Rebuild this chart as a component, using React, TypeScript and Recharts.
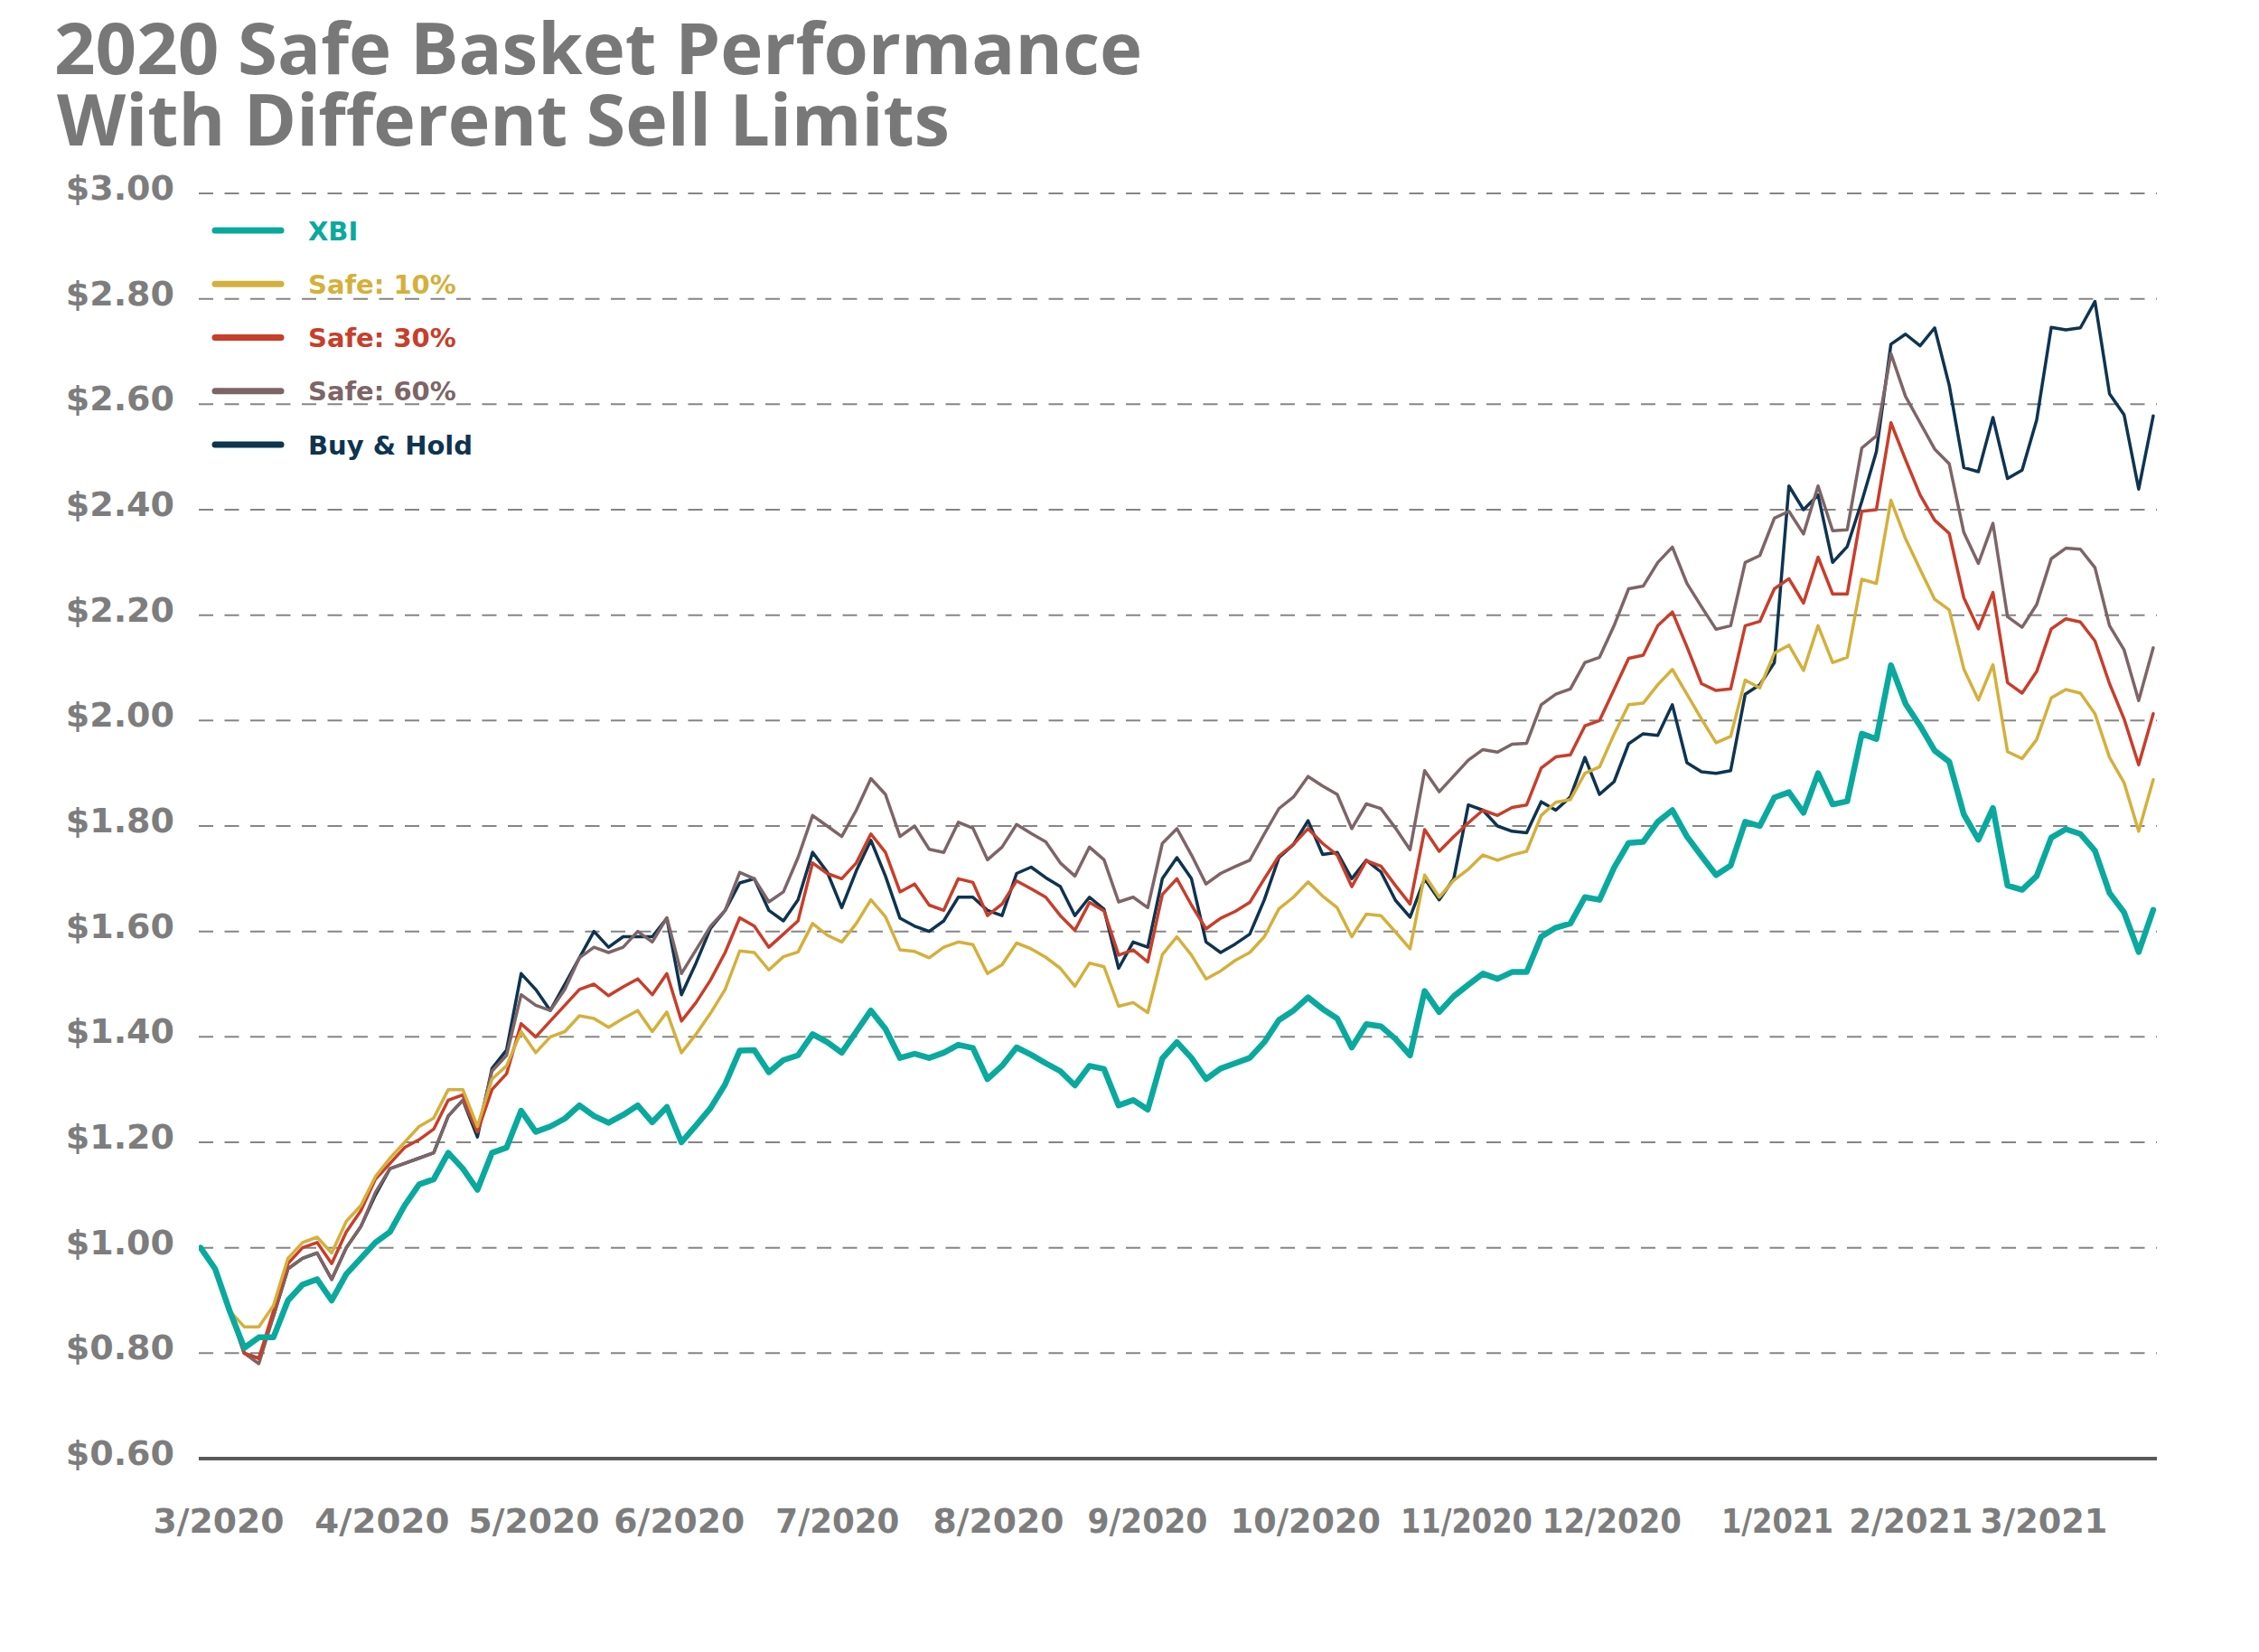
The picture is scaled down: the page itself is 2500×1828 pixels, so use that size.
import React from 'react';
import { LineChart, Line, XAxis, YAxis, CartesianGrid } from 'recharts';

// Basket values sampled every second trading day, 3/2020 through 3/2021 (start = $1.00)
const xbi = [
  1.00, 0.96, 0.88, 0.81, 0.83, 0.83, 0.90, 0.93, 0.94, 0.90,
  0.95, 0.98, 1.01, 1.03, 1.08, 1.12, 1.13, 1.18, 1.15, 1.11,
  1.18, 1.19, 1.26, 1.22, 1.23, 1.245, 1.27, 1.25, 1.237, 1.252,
  1.27, 1.238, 1.267, 1.20, 1.232, 1.265, 1.31, 1.374, 1.375, 1.333,
  1.356, 1.365, 1.405, 1.39, 1.37, 1.41, 1.45, 1.415, 1.36, 1.368,
  1.36, 1.37, 1.385, 1.379, 1.32, 1.345, 1.38, 1.366, 1.35, 1.335,
  1.308, 1.345, 1.339, 1.27, 1.28, 1.262, 1.359, 1.39, 1.36, 1.32,
  1.34, 1.35, 1.36, 1.39, 1.432, 1.45, 1.475, 1.453, 1.435, 1.38,
  1.424, 1.42, 1.396, 1.365, 1.487, 1.447, 1.477, 1.499, 1.52, 1.51,
  1.523, 1.523, 1.59, 1.607, 1.615, 1.665, 1.66, 1.721, 1.768, 1.77,
  1.808, 1.83, 1.78, 1.743, 1.707, 1.725, 1.808, 1.80, 1.854, 1.864,
  1.825, 1.90, 1.841, 1.847, 1.975, 1.965, 2.105, 2.032, 1.99, 1.943,
  1.922, 1.822, 1.774, 1.834, 1.687, 1.679, 1.705, 1.778, 1.794, 1.785,
  1.753, 1.673, 1.636, 1.561, 1.641,
];

const safe10 = [
  1.00, 0.96, 0.88, 0.85, 0.85, 0.89, 0.98, 1.01, 1.02, 0.99,
  1.05, 1.08, 1.135, 1.17, 1.20, 1.23, 1.246, 1.30, 1.30, 1.23,
  1.32, 1.345, 1.41, 1.37, 1.40, 1.41, 1.44, 1.435, 1.418, 1.435,
  1.45, 1.41, 1.447, 1.37, 1.405, 1.445, 1.49, 1.563, 1.56, 1.527,
  1.552, 1.561, 1.615, 1.593, 1.58, 1.615, 1.66, 1.628, 1.565, 1.562,
  1.55, 1.57, 1.58, 1.575, 1.52, 1.537, 1.578, 1.567, 1.551, 1.53,
  1.496, 1.54, 1.533, 1.458, 1.465, 1.446, 1.556, 1.59, 1.555, 1.51,
  1.525, 1.545, 1.56, 1.59, 1.643, 1.665, 1.694, 1.667, 1.645, 1.59,
  1.633, 1.63, 1.599, 1.567, 1.707, 1.665, 1.697, 1.718, 1.745, 1.735,
  1.745, 1.752, 1.82, 1.845, 1.85, 1.90, 1.912, 1.974, 2.03, 2.033,
  2.068, 2.097, 2.05, 2.003, 1.958, 1.97, 2.077, 2.062, 2.128, 2.143,
  2.095, 2.18, 2.11, 2.12, 2.268, 2.26, 2.418, 2.345, 2.287, 2.23,
  2.21, 2.098, 2.039, 2.106, 1.941, 1.928, 1.964, 2.043, 2.059, 2.052,
  2.013, 1.93, 1.882, 1.79, 1.888,
];

const safe30 = [
  1.00, 0.96, 0.88, 0.80, 0.79, 0.88, 0.97, 1.00, 1.01, 0.97,
  1.03, 1.07, 1.13, 1.16, 1.19, 1.205, 1.225, 1.28, 1.29, 1.22,
  1.30, 1.33, 1.425, 1.40, 1.43, 1.46, 1.49, 1.50, 1.478, 1.495,
  1.51, 1.48, 1.52, 1.43, 1.465, 1.508, 1.56, 1.626, 1.61, 1.57,
  1.595, 1.62, 1.73, 1.71, 1.70, 1.73, 1.785, 1.75, 1.675, 1.69,
  1.65, 1.64, 1.70, 1.693, 1.63, 1.652, 1.696, 1.681, 1.665, 1.63,
  1.602, 1.655, 1.639, 1.555, 1.565, 1.542, 1.67, 1.70, 1.65, 1.605,
  1.625, 1.638, 1.655, 1.70, 1.743, 1.765, 1.795, 1.767, 1.745, 1.685,
  1.734, 1.724, 1.687, 1.652, 1.793, 1.752, 1.78, 1.806, 1.83, 1.82,
  1.835, 1.84, 1.91, 1.931, 1.935, 1.99, 2.00, 2.059, 2.118, 2.124,
  2.18, 2.206, 2.14, 2.07, 2.057, 2.06, 2.18, 2.188, 2.25, 2.269,
  2.223, 2.31, 2.24, 2.24, 2.397, 2.40, 2.565, 2.495, 2.428, 2.38,
  2.355, 2.233, 2.174, 2.243, 2.072, 2.052, 2.093, 2.174, 2.193, 2.187,
  2.151, 2.07, 2.003, 1.916, 2.013,
];

const safe60 = [
  1.00, 0.96, 0.88, 0.80, 0.78, 0.87, 0.96, 0.98, 0.99, 0.94,
  1.00, 1.04, 1.105, 1.15, 1.16, 1.17, 1.18, 1.25, 1.28, 1.22,
  1.335, 1.365, 1.48, 1.46, 1.45, 1.49, 1.55, 1.57, 1.56, 1.57,
  1.60, 1.58, 1.626, 1.52, 1.565, 1.61, 1.64, 1.712, 1.70, 1.656,
  1.675, 1.74, 1.82, 1.80, 1.78, 1.83, 1.89, 1.86, 1.78, 1.80,
  1.756, 1.75, 1.807, 1.796, 1.736, 1.76, 1.803, 1.786, 1.77, 1.73,
  1.705, 1.76, 1.736, 1.656, 1.665, 1.645, 1.767, 1.795, 1.745, 1.69,
  1.71, 1.723, 1.735, 1.785, 1.833, 1.855, 1.894, 1.876, 1.86, 1.795,
  1.842, 1.833, 1.796, 1.755, 1.905, 1.865, 1.895, 1.925, 1.945, 1.94,
  1.955, 1.957, 2.03, 2.05, 2.06, 2.11, 2.12, 2.18, 2.25, 2.255,
  2.30, 2.329, 2.26, 2.216, 2.173, 2.18, 2.30, 2.313, 2.384, 2.397,
  2.354, 2.445, 2.36, 2.362, 2.517, 2.54, 2.696, 2.615, 2.565, 2.515,
  2.487, 2.357, 2.298, 2.374, 2.197, 2.177, 2.22, 2.307, 2.327, 2.325,
  2.29, 2.18, 2.134, 2.038, 2.138,
];

const buyHold = [
  1.00, 0.96, 0.88, 0.80, 0.79, 0.87, 0.96, 0.98, 0.99, 0.94,
  1.00, 1.04, 1.10, 1.15, 1.16, 1.17, 1.18, 1.25, 1.28, 1.21,
  1.34, 1.375, 1.52, 1.49, 1.45, 1.50, 1.55, 1.60, 1.57, 1.59,
  1.59, 1.59, 1.625, 1.48, 1.54, 1.606, 1.64, 1.692, 1.70, 1.64,
  1.62, 1.66, 1.75, 1.713, 1.645, 1.715, 1.773, 1.705, 1.625, 1.61,
  1.60, 1.62, 1.665, 1.665, 1.64, 1.63, 1.71, 1.722, 1.702, 1.685,
  1.63, 1.665, 1.642, 1.53, 1.58, 1.57, 1.70, 1.74, 1.70, 1.58,
  1.56, 1.576, 1.595, 1.66, 1.74, 1.765, 1.81, 1.746, 1.75, 1.70,
  1.735, 1.713, 1.659, 1.627, 1.70, 1.66, 1.70, 1.84, 1.83, 1.80,
  1.79, 1.787, 1.846, 1.83, 1.855, 1.93, 1.86, 1.884, 1.956, 1.975,
  1.972, 2.03, 1.92, 1.903, 1.90, 1.905, 2.05, 2.068, 2.11, 2.445,
  2.40, 2.428, 2.30, 2.33, 2.416, 2.51, 2.714, 2.733, 2.711, 2.745,
  2.636, 2.48, 2.472, 2.575, 2.459, 2.475, 2.57, 2.746, 2.741, 2.745,
  2.795, 2.62, 2.58, 2.439, 2.578,
];

// Month labels and where they sit along the sample index
const monthLabels = [
  '3/2020', '4/2020', '5/2020', '6/2020', '7/2020', '8/2020', '9/2020',
  '10/2020', '11/2020', '12/2020', '1/2021', '2/2021', '3/2021',
];
const monthTickIdx = [1.24, 12.46, 22.88, 32.86, 43.71, 54.75, 64.98, 75.83, 86.87, 96.85, 108.2, 117.37, 126.49];
// rendered width of each month label, so the condensed labels stay in their slots
const monthLabelWidths = [145, 149, 145, 145, 137, 145, 133, 166, 146, 154, 124, 137, 141];

const priceTicks = [0.6, 0.8, 1.0, 1.2, 1.4, 1.6, 1.8, 2.0, 2.2, 2.4, 2.6, 2.8, 3.0];

const seriesNames = ['XBI', 'Safe: 10%', 'Safe: 30%', 'Safe: 60%', 'Buy & Hold'];
const seriesKeys = ['xbi', 'safe10', 'safe30', 'safe60', 'buyHold'];
const seriesColors = ['#0aa99e', '#d4b03c', '#c83e2a', '#7d6567', '#0e3450'];
const seriesWidths = [6.5, 3.5, 3.5, 3.5, 3.5];

const rows = xbi.map((v, i) => ({
  i,
  xbi: v,
  safe10: safe10[i],
  safe30: safe30[i],
  safe60: safe60[i],
  buyHold: buyHold[i],
}));

const TICK_FONT = "'DejaVu Sans', sans-serif";
const TITLE_FONT = "'Open Sans', sans-serif";
const GRAY = '#7d7d7d';

const MonthTick = (props: any) => {
  const { x, y, payload, index } = props;
  let k = monthTickIdx.indexOf(payload?.value);
  if (k < 0) k = index;
  return (
    <text x={x} y={y + 82} textAnchor="middle" fill={GRAY} fontFamily={TICK_FONT} fontWeight="bold" fontSize={38}
      textLength={monthLabelWidths[k]} lengthAdjust="spacingAndGlyphs">
      {monthLabels[k]}
    </text>
  );
};

const PriceTick = (props: any) => {
  const { x, y, payload } = props;
  return (
    <text x={x - 27} y={y + 7} textAnchor="end" fill={GRAY} fontFamily={TICK_FONT} fontWeight="bold" fontSize={38}>
      {'$' + Number(payload.value).toFixed(2)}
    </text>
  );
};

// Draw order: Buy & Hold at the back, XBI on top
const drawOrder = [4, 3, 2, 1, 0];

export default function App() {
  return (
    <div style={{ position: 'absolute', left: 0, top: 0, width: 2500, height: 1828, background: '#ffffff' }}>
      <LineChart
        width={2500}
        height={1828}
        data={rows}
        margin={{ top: 214, right: 113, bottom: 0, left: 0 }}
      >
        <CartesianGrid vertical={false} stroke="#858585" strokeWidth={2} strokeDasharray="16 12.5" />
        <XAxis
          dataKey="i"
          type="number"
          domain={[-0.12, 134.25]}
          allowDataOverflow
          ticks={monthTickIdx}
          interval={0}
          tick={MonthTick}
          tickLine={false}
          tickSize={0}
          tickMargin={0}
          axisLine={{ stroke: '#595959', strokeWidth: 4 }}
          height={214}
        />
        <YAxis
          type="number"
          domain={[0.6, 3.0]}
          ticks={priceTicks}
          interval={0}
          tick={PriceTick}
          tickLine={false}
          tickSize={0}
          tickMargin={0}
          axisLine={false}
          width={220}
        />
        {drawOrder.map((k) => (
          <Line
            key={seriesKeys[k]}
            type="linear"
            dataKey={seriesKeys[k]}
            name={seriesNames[k]}
            stroke={seriesColors[k]}
            strokeWidth={seriesWidths[k]}
            strokeLinejoin="round"
            strokeLinecap="round"
            dot={false}
            activeDot={false}
            isAnimationActive={false}
          />
        ))}
      </LineChart>

      <svg
        width={2500}
        height={1828}
        style={{ position: 'absolute', left: 0, top: 0, pointerEvents: 'none' }}
      >
        {/* two-line title kept in one text block */}
        <text fontFamily={TITLE_FONT} fontWeight={700} fontSize={78} fill="#787878">
          <tspan x={60} y={82} textLength={1204} lengthAdjust="spacingAndGlyphs">
            2020 Safe Basket Performance
          </tspan>
          <tspan x={63} y={161} textLength={988} lengthAdjust="spacingAndGlyphs">
            With Different Sell Limits
          </tspan>
        </text>
        {seriesNames.map((name, k) => {
          const cy = 255 + 59.25 * k;
          return (
            <g key={name}>
              <line x1={238} x2={311} y1={cy} y2={cy} stroke={seriesColors[k]} strokeWidth={7} strokeLinecap="round" />
              <text x={341} y={cy + 10.5} fill={seriesColors[k]} fontFamily={TICK_FONT} fontWeight="bold" fontSize={29}>
                {name}
              </text>
            </g>
          );
        })}
      </svg>
    </div>
  );
}
